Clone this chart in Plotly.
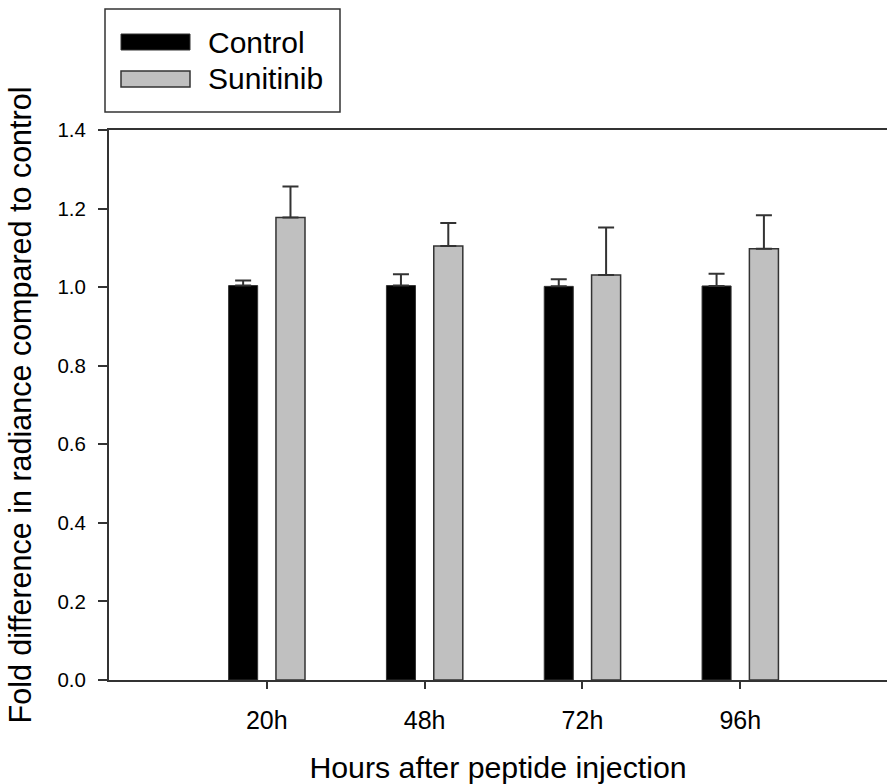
import plotly.graph_objects as go

categories = ["20h", "48h", "72h", "96h"]
control = [1.004, 1.004, 1.002, 1.003]
control_err = [0.013, 0.029, 0.018, 0.031]
sunitinib = [1.177, 1.105, 1.031, 1.098]
sunitinib_err = [0.079, 0.058, 0.121, 0.085]
y_ticks = [0.0, 0.2, 0.4, 0.6, 0.8, 1.0, 1.2, 1.4]

FONT = "Liberation Sans, Arial, sans-serif"
EDGE = "#333333"
pos = list(range(len(categories)))
off = 0.15
bw = 0.184

fig = go.Figure()
fig.add_trace(go.Bar(
    name="Control", x=[p - off for p in pos], y=control, width=bw,
    marker=dict(color="#000000", line=dict(color=EDGE, width=1)),
    error_y=dict(type="data", array=control_err, symmetric=False,
                 arrayminus=[0] * len(control), color=EDGE, thickness=2, width=8),
    showlegend=False,
))
fig.add_trace(go.Bar(
    name="Sunitinib", x=[p + off for p in pos], y=sunitinib, width=bw,
    marker=dict(color="#c0c0c0", line=dict(color=EDGE, width=1.5)),
    error_y=dict(type="data", array=sunitinib_err, symmetric=False,
                 arrayminus=[0] * len(sunitinib), color=EDGE, thickness=2, width=8),
    showlegend=False,
))

def py(ypx):
    return (784 - ypx - 104) / 550
def px(xpx):
    return (xpx - 109) / 778

# legend box drawn manually to match wide swatches
shapes = [
    dict(type="rect", xref="paper", yref="paper", x0=px(105), x1=px(340),
         y0=py(112), y1=py(9),
         line=dict(color=EDGE, width=1.5), fillcolor="white"),
    dict(type="rect", xref="paper", yref="paper", x0=px(121), x1=px(190),
         y0=py(50), y1=py(34), fillcolor="#000000", line=dict(color=EDGE, width=1)),
    dict(type="rect", xref="paper", yref="paper", x0=px(121), x1=px(190),
         y0=py(87), y1=py(71), fillcolor="#c0c0c0", line=dict(color=EDGE, width=1.5)),
]
annotations = [
    dict(text="Control", xref="paper", yref="paper", x=px(206), y=py(42),
         xanchor="left", yanchor="middle", showarrow=False,
         font=dict(family=FONT, size=30, color="#000")),
    dict(text="Sunitinib", xref="paper", yref="paper", x=px(206), y=py(79),
         xanchor="left", yanchor="middle", showarrow=False,
         font=dict(family=FONT, size=30, color="#000")),
]

fig.update_layout(
    width=887, height=784,
    margin=dict(l=109, r=0, t=130, b=104),
    plot_bgcolor="white", paper_bgcolor="white",
    barmode="overlay",
    shapes=shapes, annotations=annotations,
    font=dict(family=FONT, color="#000"),
    xaxis=dict(
        range=[-1, 3.93], tickvals=pos, ticktext=categories,
        showline=True, linecolor=EDGE, linewidth=2, mirror=True,
        ticks="outside", ticklen=7, tickwidth=1.5, tickcolor=EDGE,
        showgrid=False, zeroline=False,
        tickfont=dict(size=25), ticklabelstandoff=10,
        title=dict(text="Hours after peptide injection", font=dict(size=30.3), standoff=30),
    ),
    yaxis=dict(
        range=[0, 1.4], tickvals=y_ticks, tickformat=".1f",
        showline=True, linecolor=EDGE, linewidth=2,
        ticks="outside", ticklen=9, tickwidth=1.5, tickcolor=EDGE,
        showgrid=False, zeroline=False,
        tickfont=dict(size=20.5), ticklabelstandoff=8,
        title=dict(text="Fold difference in radiance compared to control",
                   font=dict(size=30.5), standoff=17),
    ),
)

fig.write_html("out.html")
